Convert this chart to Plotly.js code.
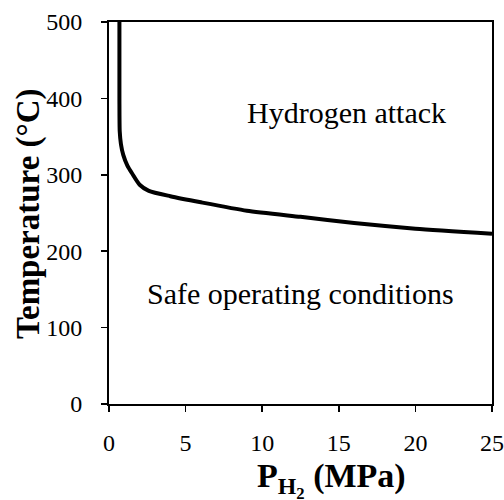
<!DOCTYPE html>
<html>
<head>
<meta charset="utf-8">
<script src="https://cdn.plot.ly/plotly-3.0.1.min.js"></script>
<style>html,body{margin:0;padding:0;background:#fff;}#chart{width:504px;height:500px;}</style>
</head>
<body>
<div id="chart"></div>
<script>
// Nelson-type curve: hydrogen partial pressure (MPa) vs temperature (°C)
const pressure = [0.68, 0.68, 0.70, 0.78, 0.93, 1.2, 1.5, 2.0, 2.6, 4, 6, 9, 12.5, 16, 20, 25];
const temperature = [500, 400, 357, 340, 326, 312, 302, 287, 279, 272, 264, 253, 245, 237, 229.5, 223];
const xTicks = [0, 5, 10, 15, 20, 25];
const yTicks = [0, 100, 200, 300, 400, 500];
const regionLabels = ["Hydrogen attack", "Safe operating conditions"];
const regionX = [15.5, 12.5];
const regionY = [381, 145];
const xTitle = '<b>P<sub>H<sub>2</sub></sub> (MPa)</b>';
const yTitle = '<b>Temperature (°C)</b>';

const serif = "Liberation Serif, Times New Roman, serif";

const trace = {
  x: pressure, y: temperature, mode: 'lines', type: 'scatter',
  line: {color: '#000', width: 4, shape: 'spline', smoothing: 0.6}, hoverinfo: 'skip'
};

const axisCommon = {
  showgrid: false, zeroline: false, showline: true, linecolor: '#000', linewidth: 2,
  mirror: true, ticks: 'outside', ticklen: 6, tickwidth: 1.5, tickcolor: '#000',
  tickfont: {family: serif, size: 24, color: '#000'}
};

const layout = {
  width: 504, height: 500,
  margin: {l: 109, r: 12, t: 22, b: 96},
  paper_bgcolor: '#fff', plot_bgcolor: '#fff',
  font: {family: serif, color: '#000'},
  showlegend: false,
  xaxis: Object.assign({}, axisCommon, {range: [0, 25], tickvals: xTicks, ticktext: xTicks.map(String),
    ticklabelstandoff: 10}),
  yaxis: Object.assign({}, axisCommon, {range: [0, 500], tickvals: yTicks, ticktext: yTicks.map(String),
    ticklabelstandoff: 14}),
  annotations: [
    {x: regionX[0], y: regionY[0], xref: 'x', yref: 'y', text: regionLabels[0], showarrow: false,
     font: {family: serif, size: 30, color: '#000'}},
    {x: regionX[1], y: regionY[1], xref: 'x', yref: 'y', text: regionLabels[1], showarrow: false,
     font: {family: serif, size: 30, color: '#000'}},
    {x: 0.582, y: -0.198, xref: 'paper', yref: 'paper', xanchor: 'center', yanchor: 'middle', showarrow: false,
     text: xTitle, font: {family: serif, size: 34, color: '#000'}},
    {x: -0.2115, y: 0.5, xref: 'paper', yref: 'paper', xanchor: 'center', yanchor: 'middle', showarrow: false,
     textangle: -90, text: yTitle, font: {family: serif, size: 33, color: '#000'}}
  ]
};

Plotly.newPlot('chart', [trace], layout, {displayModeBar: false, staticPlot: true});
</script>
</body>
</html>
